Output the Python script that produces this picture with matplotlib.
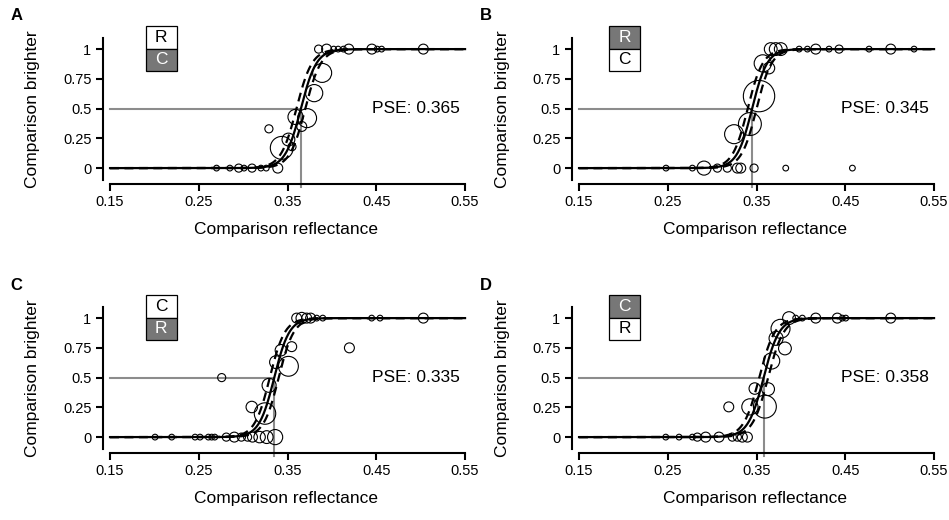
import numpy as np
import matplotlib
matplotlib.use("Agg")
import matplotlib.pyplot as plt
from matplotlib.patches import Rectangle

plt.rcParams['font.family'] = ['Liberation Sans', 'DejaVu Sans']

# ---------------- data ----------------
panel_letters = ["A", "B", "C", "D"]
pse_values = [0.365, 0.345, 0.335, 0.358]
legend_top = ["R", "R", "C", "C"]
legend_bottom = ["C", "C", "R", "R"]
top_is_gray = [False, True, False, True]

xticks = [0.15, 0.25, 0.35, 0.45, 0.55]
xtick_labels = ["0.15", "0.25", "0.35", "0.45", "0.55"]
yticks = [0, 0.25, 0.5, 0.75, 1]
ytick_labels = ["0", "0.25", "0.5", "0.75", "1"]

# Panel A
a_x = [0.270, 0.285, 0.295, 0.301, 0.310, 0.320, 0.326, 0.339,
       0.329, 0.3435, 0.351, 0.355, 0.359, 0.372, 0.366, 0.380, 0.389,
       0.385, 0.394, 0.402, 0.407, 0.413, 0.419, 0.445, 0.451, 0.456, 0.503]
a_y = [0, 0, 0, 0, 0, 0, 0, 0,
       0.33, 0.17, 0.24, 0.18, 0.43, 0.42, 0.35, 0.63, 0.80,
       1, 1, 1, 1, 1, 1, 1, 1, 1, 1]
a_n = [1, 1, 2, 1, 2, 1, 1, 3,
       2, 16, 5, 2, 7, 11, 3, 9, 11,
       2, 3, 1, 1, 1, 3, 3, 1, 1, 3]

# Panel B
b_x = [0.248, 0.2777, 0.2908, 0.3059, 0.3171, 0.3284, 0.3322, 0.3472, 0.3829, 0.458,
       0.3247, 0.3425, 0.3528, 0.357, 0.364,
       0.366, 0.3716, 0.3773, 0.398, 0.4073, 0.4167, 0.4317, 0.443, 0.4768, 0.5012, 0.5275]
b_y = [0, 0, 0, 0, 0, 0, 0, 0, 0, 0,
       0.285, 0.37, 0.605, 0.88, 0.84,
       1, 1, 1, 1, 1, 1, 1, 1, 1, 1, 1]
b_n = [1, 1, 6, 2, 2, 3, 3, 2, 1, 1,
       11, 16, 30, 9, 4,
       5, 5, 5, 1, 1, 3, 1, 2, 1, 3, 1]

# Panel C
c_x = [0.2007, 0.2195, 0.2458, 0.2514, 0.2608, 0.2645, 0.268, 0.281, 0.290, 0.298,
       0.305, 0.3105, 0.3185, 0.3265, 0.336,
       0.2758, 0.3097, 0.3246, 0.3292, 0.3425, 0.337, 0.351, 0.3547, 0.4197,
       0.3603, 0.366, 0.3716, 0.376, 0.3829, 0.3897, 0.4448, 0.4542, 0.503]
c_y = [0, 0, 0, 0, 0, 0, 0, 0, 0, 0,
       0, 0, 0, 0, 0,
       0.5, 0.253, 0.198, 0.435, 0.73, 0.63, 0.595, 0.76, 0.75,
       1, 1, 1, 1, 1, 1, 1, 1, 1]
c_n = [1, 1, 1, 1, 1, 1, 1, 2, 3, 2,
       2, 3, 4, 5, 7,
       2, 4, 14, 6, 4, 5, 12, 3, 3,
       3, 4, 3, 3, 1, 1, 1, 1, 3]

# Panel D
d_x = [0.2477, 0.2627, 0.2777, 0.2833, 0.2927, 0.3077, 0.3227, 0.3284, 0.334, 0.3397,
       0.3187, 0.3425, 0.3594, 0.348, 0.363, 0.367, 0.372, 0.377, 0.382,
       0.3866, 0.3941, 0.4016, 0.4167, 0.441, 0.4467, 0.4505, 0.5012]
d_y = [0, 0, 0, 0, 0, 0, 0, 0, 0, 0,
       0.254, 0.254, 0.256, 0.408, 0.403, 0.64, 0.83, 0.91, 0.745,
       1, 1, 1, 1, 1, 1, 1, 1]
d_n = [1, 1, 1, 2, 3, 3, 2, 2, 3, 3,
       3, 8, 16, 4, 5, 8, 6, 11, 5,
       5, 1, 1, 3, 3, 1, 1, 3]

xs = [a_x, b_x, c_x, d_x]
ys = [a_y, b_y, c_y, d_y]
ns = [a_n, b_n, c_n, d_n]

# fit parameters (logistic slope) and CI shifts
slopes = [0.0088, 0.0085, 0.0085, 0.0088]
ci_shift = [0.005, 0.005, 0.005, 0.005]

# ---------------- figure ----------------
W, H = 949, 520
fig = plt.figure(figsize=(W / 100, H / 100), dpi=100)

XL = (0.1415, 0.555)
YL = (-0.1, 1.09)
ax_w = (XL[1] - XL[0]) * 887.5
ax_h = (YL[1] - YL[0]) * 119.0
lefts = [102.5, 571.5, 102.5, 571.5]
bottoms = [180, 180, 449, 449]
box_x = [145.7, 609.3, 145.7, 609.3]  # px left of legend boxes

gray_fill = "#777777"
line_gray = "#8c8c8c"

def logistic(x, m, s):
    return 1.0 / (1.0 + np.exp(-(x - m) / s))

for i in range(4):
    L, B = lefts[i], bottoms[i]
    ax = fig.add_axes([L / W, (H - B) / H, ax_w / W, ax_h / H])
    ax.set_xlim(*XL)
    ax.set_ylim(*YL)
    for sp in ['top', 'right']:
        ax.spines[sp].set_visible(False)
    ax.spines['left'].set_linewidth(1.5)
    ax.spines['bottom'].set_linewidth(1.5)
    ax.spines['bottom'].set_position(('outward', 3))
    ax.spines['bottom'].set_bounds(0.15, 0.55)
    ax.set_xticks(xticks)
    ax.set_xticklabels(xtick_labels)
    ax.set_yticks(yticks)
    ax.set_yticklabels(ytick_labels)
    ax.tick_params(width=1.5, length=5, labelsize=10.5, pad=3)
    ax.set_xlabel("Comparison reflectance", fontsize=12.5, labelpad=9)

    pse = pse_values[i]
    # PSE guide lines
    ax.plot([0.15, pse], [0.5, 0.5], color=line_gray, lw=1.5, zorder=1)
    ax.plot([pse, pse], [0.5, -0.155], color=line_gray, lw=1.5, zorder=1, clip_on=False)

    xx = np.linspace(0.15, 0.55, 600)
    ax.plot(xx, logistic(xx, pse - ci_shift[i], slopes[i]), color='black', lw=1.6,
            ls=(0, (4, 2.5)), zorder=2)
    ax.plot(xx, logistic(xx, pse + ci_shift[i], slopes[i]), color='black', lw=1.6,
            ls=(0, (4, 2.5)), zorder=2)
    ax.plot(xx, logistic(xx, pse, slopes[i]), color='black', lw=1.6, zorder=3)

    sizes = [17.0 * n for n in ns[i]]
    ax.scatter(xs[i], ys[i], s=sizes, facecolors='none', edgecolors='black',
               linewidths=0.8, zorder=4, clip_on=False)

    ax.text(0.544, 0.5, "PSE: %.3f" % pse, ha='right', va='center', fontsize=12.5)

    # legend boxes (pixel positions -> figure fraction)
    bx = box_x[i]
    top_y = B - 180 + 26
    bw, bh = 31, 22.5
    for k, (lab, gray) in enumerate([(legend_top[i], top_is_gray[i]),
                                     (legend_bottom[i], not top_is_gray[i])]):
        y0 = top_y + k * bh
        rect = Rectangle((bx / W, (H - y0 - bh) / H), bw / W, bh / H,
                         transform=fig.transFigure, facecolor=gray_fill if gray else 'white',
                         edgecolor='black', lw=0.9, zorder=5)
        fig.patches.append(rect)
        fig.text((bx + bw / 2) / W, (H - y0 - bh / 2) / H, lab, ha='center', va='center',
                 fontsize=12.5, color='white' if gray else 'black', zorder=6)

    # y label and panel letter
    fig.text((L - 69.5) / W, (H - (B - 71)) / H, "Comparison brighter", rotation=90,
             ha='center', va='center', fontsize=12.5)
    fig.text((L - 92) / W, (H - (B - 164)) / H, panel_letters[i], ha='left', va='center',
             fontsize=12, fontweight='bold')

fig.savefig("out.png", dpi=100)
